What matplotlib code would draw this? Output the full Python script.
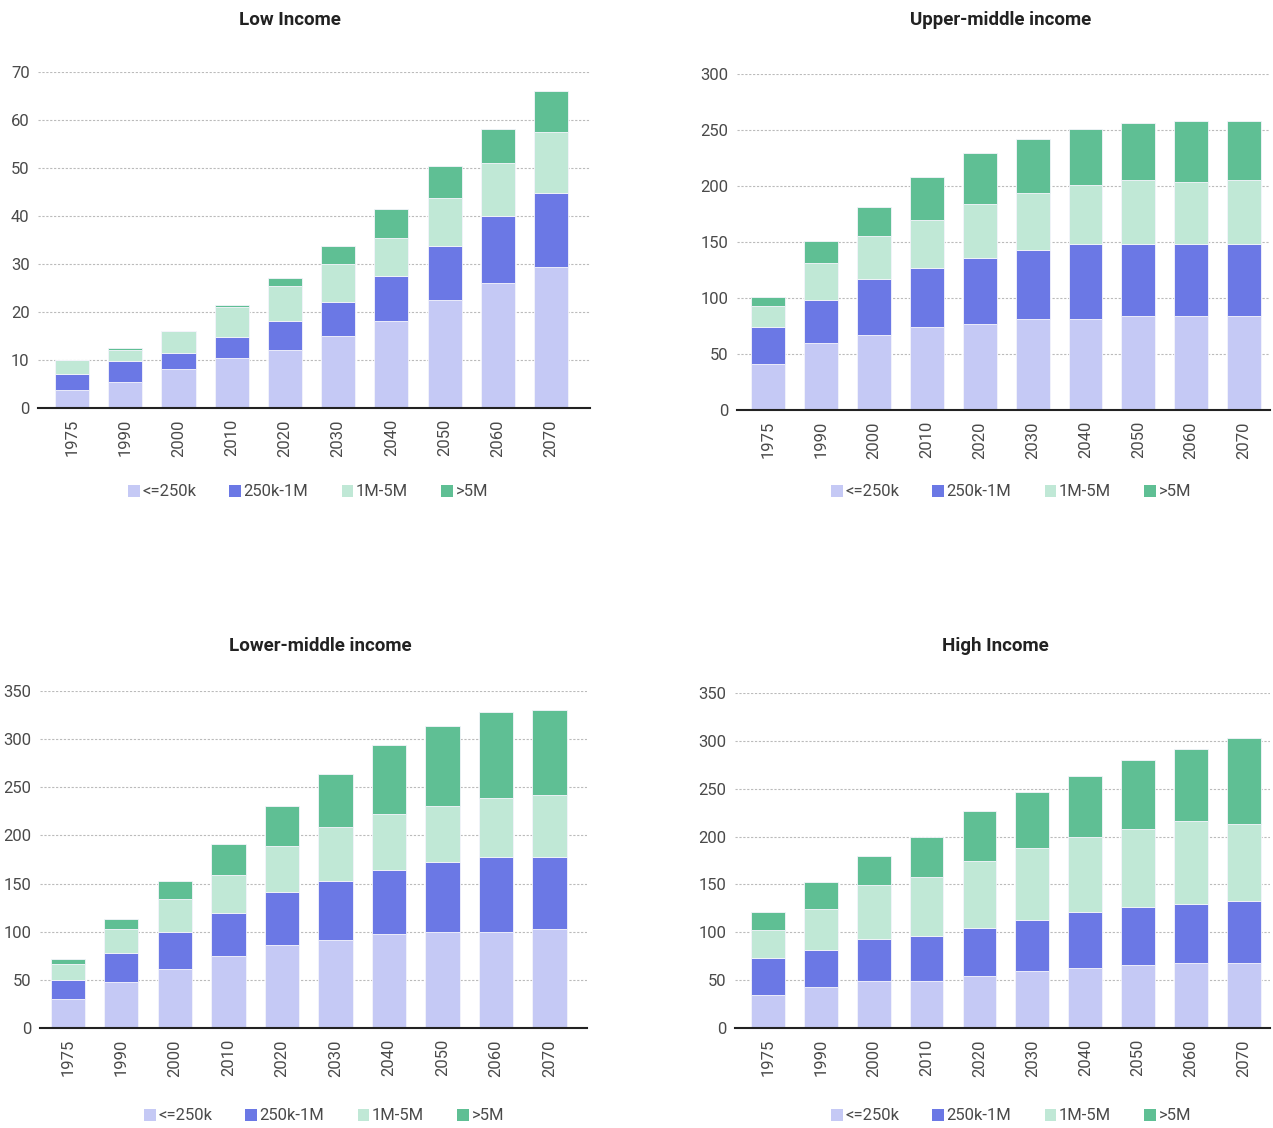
import matplotlib
matplotlib.use('Agg')
import matplotlib.pyplot as plt
from matplotlib.patches import Patch
import numpy as np

plt.rcParams['font.family'] = ['Roboto', 'DejaVu Sans']

# Data
years = ['1975', '1990', '2000', '2010', '2020', '2030', '2040', '2050', '2060', '2070']
categories = ['<=250k', '250k-1M', '1M-5M', '>5M']
colors = ['#c5c9f5', '#6b78e5', '#c0e8d6', '#5fbf94']

low_small = [3.7, 5.4, 8.2, 10.4, 12.1, 14.9, 18.2, 22.6, 26.0, 29.3]
low_mid = [3.3, 4.4, 3.2, 4.4, 6.0, 7.1, 9.4, 11.15, 13.9, 15.5]
low_large = [2.9, 2.3, 4.6, 6.2, 7.3, 7.9, 7.8, 10.0, 11.1, 12.8]
low_mega = [0, 0.5, 0, 0.5, 1.7, 3.85, 6.1, 6.65, 7.2, 8.4]

upper_small = [40.7, 59.8, 66.7, 74.2, 76.6, 81.4, 81.4, 83.8, 83.8, 83.8]
upper_mid = [33.2, 38.0, 50.3, 52.3, 59.5, 61.9, 66.7, 64.3, 64.3, 64.3]
upper_large = [19.1, 33.8, 38.5, 43.4, 47.9, 50.5, 52.6, 57.7, 55.3, 57.7]
upper_mega = [7.5, 19.2, 26.1, 38.0, 45.7, 47.9, 50.6, 50.3, 54.8, 52.4]

lower_small = [30.5, 47.5, 61.0, 75.2, 85.9, 91.8, 97.4, 100.1, 100.1, 102.9]
lower_mid = [19.4, 30.1, 38.8, 44.0, 55.5, 60.7, 66.5, 72.1, 77.3, 74.5]
lower_large = [17.0, 25.3, 33.9, 39.5, 47.8, 56.1, 58.2, 58.2, 61.7, 64.1]
lower_mega = [5.2, 10.8, 19.1, 32.9, 41.2, 55.1, 72.1, 83.5, 88.7, 89.1]

high_small = [34.9, 43.3, 48.8, 48.8, 54.4, 60.0, 62.8, 65.6, 68.4, 68.4]
high_mid = [38.7, 38.7, 44.4, 47.2, 50.3, 53.0, 58.6, 61.1, 61.0, 63.8]
high_large = [28.3, 42.2, 56.1, 61.7, 69.8, 75.4, 78.2, 81.3, 86.9, 81.3]
high_mega = [19.2, 27.9, 30.4, 41.9, 52.6, 58.3, 63.8, 72.2, 75.0, 89.4]

W, H = 1273, 1128
fig = plt.figure(figsize=(W / 100, H / 100), dpi=100)


def px_rect(left, right, top, bottom):
    return [left / W, 1 - bottom / H, (right - left) / W, (bottom - top) / H]


def draw_panel(rect, title, title_x, title_y, series, ymax, step, xlim, legend_xy):
    ax = fig.add_axes(rect)
    x = np.arange(len(years))
    bottom = np.zeros(len(years))
    for vals, col in zip(series, colors):
        vals = np.array(vals)
        ax.bar(x, vals, 0.64, bottom=bottom, color=col, edgecolor='#f4f4fb', linewidth=0.6, zorder=3)
        bottom += vals
    ax.set_ylim(0, ymax)
    ax.set_xlim(*xlim)
    ax.set_yticks(np.arange(0, ymax + 1, step))
    ax.set_xticks(x)
    ax.set_xticklabels(years, rotation=90)
    ax.tick_params(axis='both', length=0, labelsize=12, colors='#4a4a4a')
    ax.tick_params(axis='x', pad=8)
    ax.tick_params(axis='y', pad=6)
    ax.yaxis.grid(True, linestyle=(0, (2, 1.5)), color='#bbbbbb', linewidth=0.8, zorder=0)
    for side in ['top', 'right', 'left']:
        ax.spines[side].set_visible(False)
    ax.spines['bottom'].set_color('#222222')
    ax.spines['bottom'].set_linewidth(1.5)
    ax.spines['bottom'].set_zorder(4)
    fig.text(title_x / W, 1 - title_y / H, title, ha='center', va='center',
             fontsize=13.5, fontweight='bold', color='#222222')
    handles = [Patch(facecolor=c, edgecolor='none') for c in colors]
    fig.legend(handles, categories, loc='center', ncol=4, frameon=False,
               bbox_to_anchor=(legend_xy[0] / W, 1 - legend_xy[1] / H),
               fontsize=12, handlelength=0.7, handleheight=0.7,
               handletextpad=0.15, columnspacing=2.0, labelcolor='#4a4a4a')
    return ax


draw_panel(px_rect(38, 590, 72, 408), 'Low Income', 290, 20,
           [low_small, low_mid, low_large, low_mega], 70, 10, (-0.64, 9.73), (308, 492))
draw_panel(px_rect(737, 1270, 74, 410), 'Upper-middle income', 1001, 20,
           [upper_small, upper_mid, upper_large, upper_mega], 300, 50, (-0.59, 9.49), (1011, 492))
draw_panel(px_rect(40, 587, 691, 1028), 'Lower-middle income', 320, 646,
           [lower_small, lower_mid, lower_large, lower_mega], 350, 50, (-0.52, 9.7), (324, 1116))
draw_panel(px_rect(735, 1270, 693, 1028), 'High Income', 995, 646,
           [high_small, high_mid, high_large, high_mega], 350, 50, (-0.62, 9.49), (1011, 1116))

fig.savefig('out.png', dpi=100, facecolor='white')
